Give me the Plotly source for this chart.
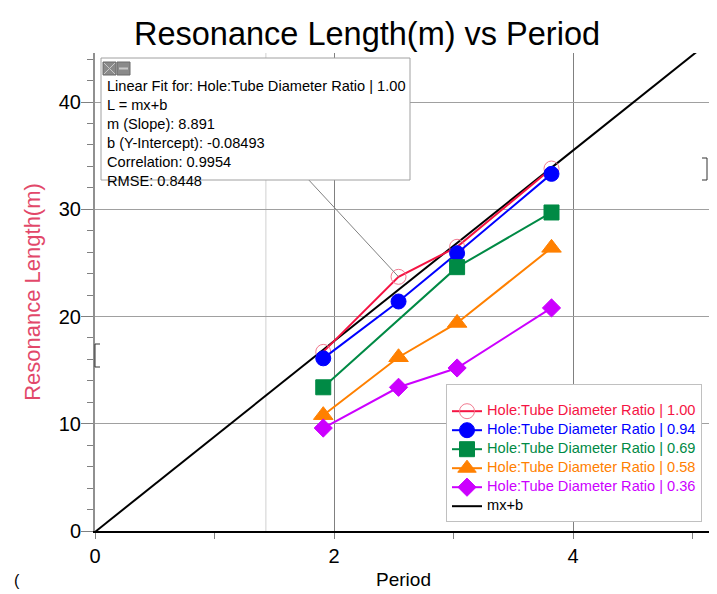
import plotly.graph_objects as go

# ---- data ----
period = [1.91, 2.54, 3.03, 3.82]
ratio_100 = [16.7, 23.7, 26.5, 33.8]
ratio_094 = [16.1, 21.4, 25.9, 33.3]
ratio_069 = [13.4, None, 24.6, 29.7]
ratio_058 = [10.8, 16.2, 19.4, 26.4]
ratio_036 = [9.6, 13.4, 15.2, 20.8]
series_names = ["Hole:Tube Diameter Ratio | 1.00", "Hole:Tube Diameter Ratio | 0.94",
                "Hole:Tube Diameter Ratio | 0.69", "Hole:Tube Diameter Ratio | 0.58",
                "Hole:Tube Diameter Ratio | 0.36"]
fit_slope = 8.891
fit_intercept = -0.08493
fit_corr = 0.9954
fit_rmse = 0.8448
fit_x = [0, 5.3]

X_RANGE = [0, 5.163]
Y_RANGE = [0, 44.57]

colors = ["#f51443", "#0000ff", "#008a45", "#ff8000", "#cc00ff"]
symbols = ["circle-open", "circle", "square", "triangle-up", "diamond"]
sizes = [15, 15, 15, 17, 14]
series = [ratio_100, ratio_094, ratio_069, ratio_058, ratio_036]

LEG_FS = 14.6

fig = go.Figure()

fig.add_trace(go.Scatter(
    x=fit_x, y=[fit_slope * v + fit_intercept for v in fit_x],
    mode="lines", line=dict(color="black", width=2),
    name=f"<span style='color:black;font-size:{LEG_FS}px'>mx+b</span>", legendrank=2000, showlegend=True))

for name, ys, c, s, sz in zip(series_names, series, colors, symbols, sizes):
    mcol = "#f27a90" if s == "circle-open" else c
    fig.add_trace(go.Scatter(
        x=period, y=ys, mode="lines+markers", connectgaps=True,
        line=dict(color=c, width=2),
        marker=dict(symbol=s, size=sz, color=mcol, line=dict(width=1, color=mcol)),
        name=f"<span style='color:{c};font-size:{LEG_FS}px'>{name}</span>"))

# page offset (browser body margin) and plot area in screenshot pixels
OFF = 8
W, H = 717, 594
PL, PR, PT, PB = 95, 712, 53, 531
def px(xp): return (xp - PL) / (PR - PL)
def py(yp): return (PB - yp) / (PB - PT)

shapes = []
shapes.append(dict(type="line", xref="x", yref="paper", x0=1.43, x1=1.43, y0=0, y1=1,
                   line=dict(color="#d0d0d0", width=1), layer="below"))
shapes.append(dict(type="line", xref="x", yref="y", x0=1.775, y0=32.9,
                   x1=period[1], y1=ratio_100[1], line=dict(color="#808080", width=1)))
shapes.append(dict(type="rect", xref="paper", yref="paper", x0=px(101), x1=px(410),
                   y0=py(180), y1=py(58), fillcolor="white", line=dict(color="#a0a0a0", width=1)))
for (a, b) in [(103, 116), (117, 130)]:
    shapes.append(dict(type="rect", xref="paper", yref="paper", x0=px(a), x1=px(b),
                       y0=py(75), y1=py(62), fillcolor="#8a8a8a", line=dict(color="#6a6a6a", width=1)))
shapes.append(dict(type="line", xref="paper", yref="paper", x0=px(104), x1=px(115), y0=py(63), y1=py(74),
                   line=dict(color="#c8c8c8", width=1)))
shapes.append(dict(type="line", xref="paper", yref="paper", x0=px(104), x1=px(115), y0=py(74), y1=py(63),
                   line=dict(color="#c8c8c8", width=1)))
shapes.append(dict(type="line", xref="paper", yref="paper", x0=px(119), x1=px(128), y0=py(68.5), y1=py(68.5),
                   line=dict(color="#c8c8c8", width=2)))
# legend icon
LEG_TOP = 384
shapes.append(dict(type="rect", xref="paper", yref="paper", x0=px(447), x1=px(461),
                   y0=py(LEG_TOP + 16), y1=py(LEG_TOP + 2), fillcolor="#8a8a8a",
                   line=dict(color="#6a6a6a", width=1)))
shapes.append(dict(type="line", xref="paper", yref="paper", x0=px(448), x1=px(460),
                   y0=py(LEG_TOP + 3), y1=py(LEG_TOP + 15), line=dict(color="#c8c8c8", width=1)))
shapes.append(dict(type="line", xref="paper", yref="paper", x0=px(448), x1=px(460),
                   y0=py(LEG_TOP + 15), y1=py(LEG_TOP + 3), line=dict(color="#c8c8c8", width=1)))
shapes.append(dict(type="path", xref="paper", yref="paper",
                   path=f"M {px(100)} {py(344)} L {px(95)} {py(344)} L {px(95)} {py(367)} L {px(100)} {py(367)}",
                   line=dict(color="#333", width=1)))
shapes.append(dict(type="path", xref="paper", yref="paper",
                   path=f"M {px(702)} {py(158)} L {px(707)} {py(158)} L {px(707)} {py(180)} L {px(702)} {py(180)}",
                   line=dict(color="#333", width=1)))

fit_text = (f"Linear Fit for: {series_names[0]}<br>L = mx+b<br>m (Slope): {fit_slope}"
            f"<br>b (Y-Intercept): {fit_intercept}<br>Correlation: {fit_corr}<br>RMSE: {fit_rmse}")

annotations = [
    dict(text=fit_text, xref="paper", yref="paper", x=px(105), y=py(76), xanchor="left", yanchor="top",
         align="left", showarrow=False, font=dict(size=14.6, color="black", family="Liberation Sans")),
    dict(text="(", xref="paper", yref="paper", x=px(17), y=py(580), xanchor="center", yanchor="middle",
         showarrow=False, font=dict(size=16, color="black", family="Liberation Sans")),
]

fig.update_layout(
    width=W - OFF, height=H - OFF,
    margin=dict(l=PL - OFF, r=W - PR, t=PT - OFF, b=H - PB),
    paper_bgcolor="white", plot_bgcolor="white",
    font=dict(family="Liberation Sans", color="black"),
    title=dict(text="Resonance Length(m) vs Period", x=(367 - OFF) / (W - OFF), xref="container",
               xanchor="center", y=1 - (34 - OFF) / (H - OFF), yref="container", yanchor="middle",
               font=dict(size=32.5, color="black")),
    xaxis=dict(range=X_RANGE, dtick=2, tick0=0, showgrid=True, gridcolor="#808080", gridwidth=1,
               zeroline=False, showline=True, linecolor="black", linewidth=2, mirror=False,
               ticks="outside", ticklen=6, tickcolor="#808080", automargin=False,
               minor=dict(dtick=1, ticks="outside", ticklen=6, tickcolor="#808080", showgrid=False),
               tickfont=dict(size=20), title=dict(text="Period", font=dict(size=19), standoff=7)),
    yaxis=dict(range=Y_RANGE, dtick=10, tick0=0, showgrid=True, gridcolor="#a0a0a0", gridwidth=1,
               zeroline=False, showline=True, linecolor="#909090", linewidth=2, automargin=False,
               ticks="outside", ticklen=12, tickcolor="#808080", ticklabelstandoff=-4,
               minor=dict(dtick=2, ticks="outside", ticklen=6, tickcolor="#808080", showgrid=False),
               tickfont=dict(size=20),
               title=dict(text="Resonance Length(m)", font=dict(size=22, color="#e2486a"), standoff=12)),
    legend=dict(x=px(446), y=py(LEG_TOP), xanchor="left", yanchor="top",
                bgcolor="white", bordercolor="#c0c0c0", borderwidth=1,
                font=dict(size=10), title=dict(text=" ", font=dict(size=9)),
                tracegroupgap=0, itemwidth=30),
    shapes=shapes, annotations=annotations,
)

fig.write_html("out.html")
